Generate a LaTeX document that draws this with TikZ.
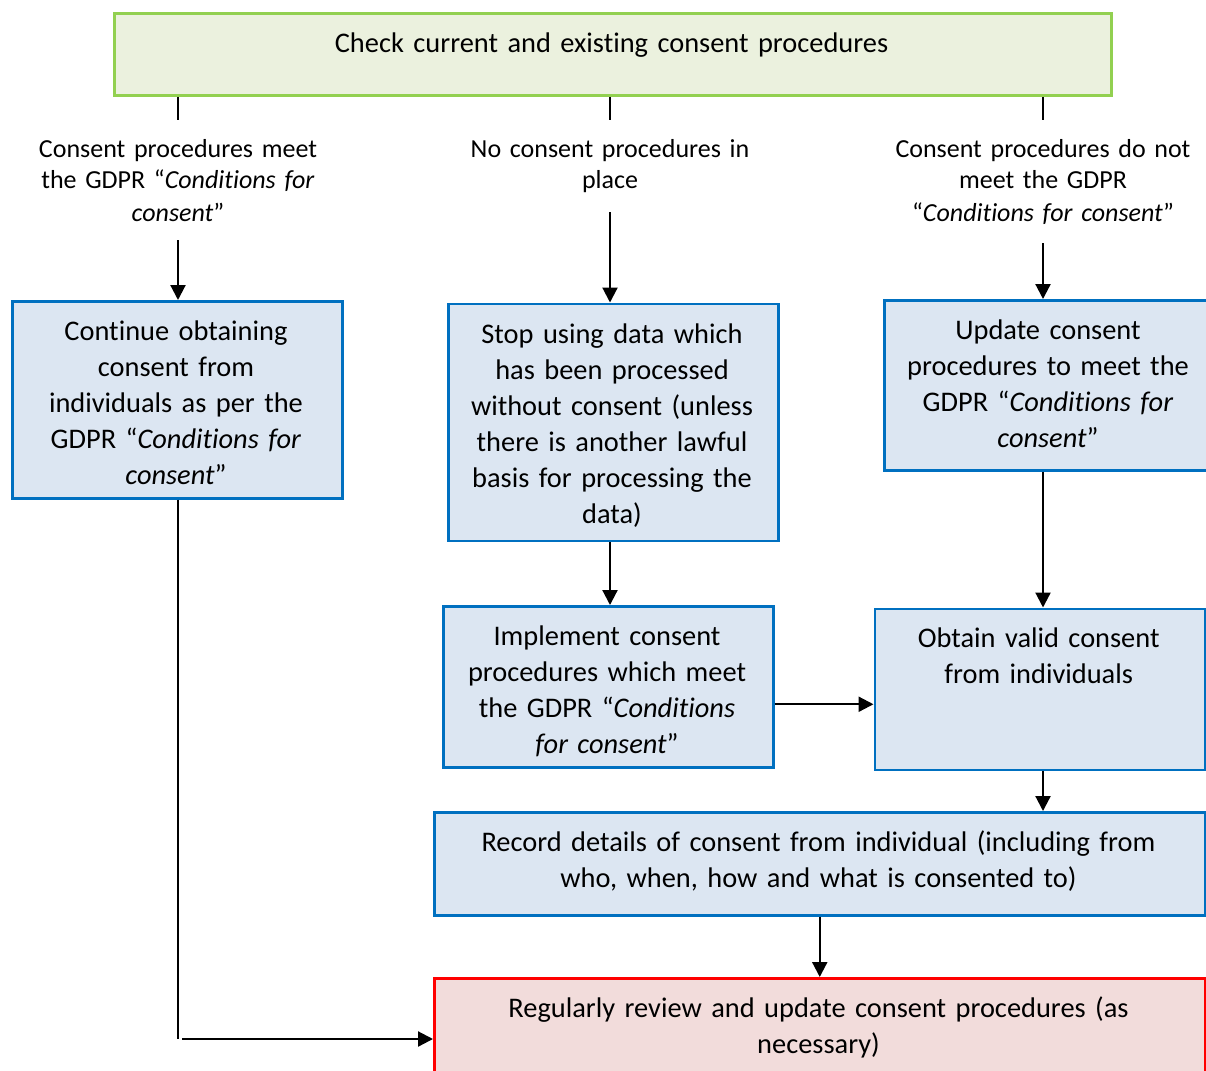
\documentclass[tikz,border=0pt]{standalone}
\usepackage{fontspec}
\setmainfont{Carlito}[Ligatures={TeX,NoCommon}]
\usetikzlibrary{arrows.meta,calc}
\definecolor{bluebd}{HTML}{0070C0}
\definecolor{bluefill}{HTML}{DCE6F2}
\definecolor{greenbd}{HTML}{92D050}
\definecolor{greenfill}{HTML}{EBF1DE}
\definecolor{redbd}{HTML}{FF0000}
\definecolor{redfill}{HTML}{F2DCDB}
\begin{document}
\begin{tikzpicture}[x=1pt,y=-1pt,
  boxbase/.style={draw, line width=2.5pt, inner sep=0pt, anchor=north west},
  bluebox/.style={boxbase, draw=bluebd, fill=bluefill},
  txt/.style={anchor=base, align=center, inner sep=0pt, font=\fontsize{28.4}{36}\selectfont},
  lbl/.style={anchor=base, align=center, inner xsep=0pt, inner ysep=19pt, font=\fontsize{26}{32}\selectfont},
  conn/.style={line width=2.2pt},
  arr/.style={conn, -{Triangle[length=15pt,width=15pt]}}
]
\useasboundingbox[fill=white] (0,0) rectangle (1206,1070);

% top box
\node[boxbase, draw=greenbd, fill=greenfill, minimum width=997pt, minimum height=82pt] (top) at (113,12.5) {};
\node[txt, text width=980pt] (topT) at (611.5,53) {Check current and existing consent procedures};

% labels
\node[lbl, text width=320pt] (l1) at (178,157) {Consent procedures meet\\the GDPR “\textit{Conditions for}\\\textit{consent}”};
\node[lbl, text width=320pt] (l2) at (610,157) {No consent procedures in\\place};
\node[lbl, text width=320pt] (l3) at (1043,157) {Consent procedures do not\\meet the GDPR\\“\textit{Conditions for consent}”};

% boxes
\node[bluebox, minimum width=330pt, minimum height=197pt] (left) at (11,300) {};
\node[txt, text width=320pt] (leftT) at (176,340) {Continue obtaining\\consent from\\individuals as per the\\GDPR “\textit{Conditions for}\\\textit{consent}”};

\node[bluebox, minimum width=330pt, minimum height=237pt] (stop) at (447,302.5) {};
\node[txt, text width=320pt] (stopT) at (612,343) {Stop using data which\\has been processed\\without consent (unless\\there is another lawful\\basis for processing the\\data)};

\node[bluebox, minimum width=330pt, minimum height=170pt] (upd) at (883,299) {};
\node[txt, text width=320pt] (updT) at (1048,339) {Update consent\\procedures to meet the\\GDPR “\textit{Conditions for}\\\textit{consent}”};

\node[bluebox, minimum width=330pt, minimum height=161pt] (impl) at (442,605) {};
\node[txt, text width=320pt] (implT) at (607,645) {Implement consent\\procedures which meet\\the GDPR “\textit{Conditions}\\\textit{for consent}”};

\node[bluebox, minimum width=330.5pt, minimum height=161pt] (obt) at (873.5,607.5) {};
\node[txt, text width=320pt] (obtT) at (1038.7,647) {Obtain valid consent\\from individuals};

\node[bluebox, minimum width=771pt, minimum height=103pt] (rec) at (433,811) {};
\node[txt, text width=760pt] (recT) at (818.5,851) {Record details of consent from individual (including from\\who, when, how and what is consented to)};

\node[boxbase, draw=redbd, fill=redfill, minimum width=771pt, minimum height=103pt] (rev) at (433,977) {};
\node[txt, text width=760pt] (revT) at (818.5,1017) {Regularly review and update consent procedures (as\\necessary)};

% connectors
\draw[conn] (top.south -| l1.north) -- (l1.north);
\draw[conn] (top.south -| l2.north) -- (l2.north);
\draw[conn] (top.south -| l3.north) -- (l3.north);
\draw[arr] (l1.south) -- (l1.south |- left.north);
\draw[arr] (l2.south) -- (l2.south |- stop.north);
\draw[arr] (l3.south) -- (l3.south |- upd.north);
\draw[arr] (stop.south -| l2.south) -- (impl.north -| l2.south);
\draw[arr] (upd.south -| l3.south) -- (obt.north -| l3.south);
\draw[arr] ([yshift=-17.5pt]impl.east) -- ([yshift=-17.5pt]impl.east -| obt.west);
\draw[arr] (obt.south -| l3.south) -- (rec.north -| l3.south);
\draw[arr] (rec.south) -- (rec.south |- rev.north);
\coordinate (corner) at (178,1039);
\draw[conn] (left.south -| corner) -- (corner);
\draw[arr] ([xshift=4pt]corner) -- (corner -| rev.west);
\end{tikzpicture}
\end{document}
